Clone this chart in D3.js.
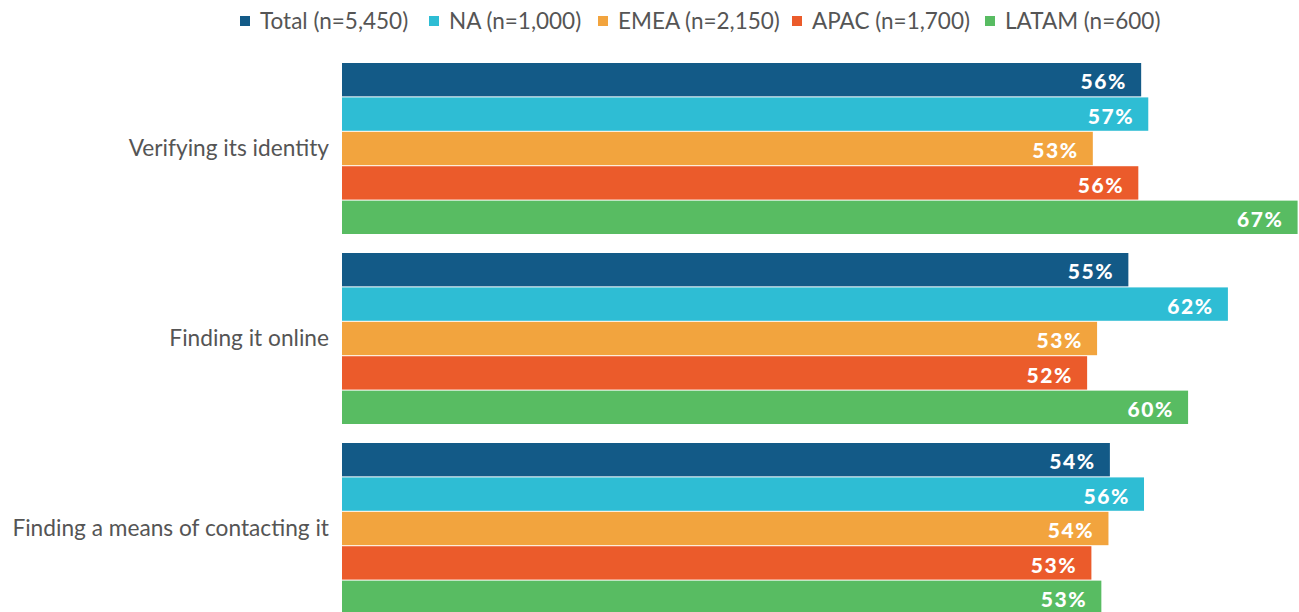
<!DOCTYPE html>
<html><head><meta charset="utf-8">
<script src="https://cdn.jsdelivr.net/npm/d3@7"></script>
<style>body{margin:0;background:#fff}svg{display:block}</style>
</head><body><svg id="c" width="1299" height="612"></svg>
<script>
const categories = ["Verifying its identity", "Finding it online", "Finding a means of contacting it"];
const seriesNames = ["Total (n=5,450)", "NA (n=1,000)", "EMEA (n=2,150)", "APAC (n=1,700)", "LATAM (n=600)"];
const seriesColors = ["#135a87", "#2ebdd4", "#f2a43e", "#eb5b2b", "#58bc62"];
const totalVals = [56.2, 55.3, 54.0];
const naVals    = [56.7, 62.3, 56.4];
const emeaVals  = [52.8, 53.1, 53.9];
const apacVals  = [56.0, 52.4, 52.7];
const latamVals = [67.2, 59.5, 53.4];
const seriesVals = [totalVals, naVals, emeaVals, apacVals, latamVals];

const svg = d3.select("#c");
const x = d3.scaleLinear().domain([0, 70]).range([342, 342 + 70 * 14.22]);
const y0 = d3.scaleBand().domain(categories).range([63, 614]).paddingInner(0.1).paddingOuter(0);
const y1 = d3.scaleBand().domain(seriesNames).range([0, y0.bandwidth()]).paddingInner(0.03).paddingOuter(0);

const LS = 1.6;
const groups = svg.selectAll("g.grp").data(categories).join("g")
  .attr("transform", c => `translate(0,${y0(c)})`);

groups.each(function(c, ci) {
  const g = d3.select(this);
  seriesNames.forEach((s, si) => {
    const v = seriesVals[si][ci];
    g.append("rect").attr("x", x(0)).attr("y", y1(s))
      .attr("width", x(v) - x(0)).attr("height", y1.bandwidth())
      .attr("fill", seriesColors[si]);
    g.append("text").attr("x", x(v) - 15.7 + LS).attr("y", y1(s) + y1.bandwidth() / 2 + 9.8)
      .attr("text-anchor", "end")
      .attr("fill", "#fff").attr("font-family", "Lato").attr("font-weight", 900)
      .attr("font-size", 21).attr("letter-spacing", LS)
      .text(Math.round(v) + "%");
  });
  g.append("text").attr("x", 329).attr("y", y0.bandwidth() / 2 + 7.5)
    .attr("text-anchor", "end").attr("fill", "#555").attr("font-family", "Lato")
    .attr("font-size", 22.7).text(c);
});

// legend
const legendX = [240, 429, 598, 792, 985];
const lg = svg.append("g");
seriesNames.forEach((s, i) => {
  lg.append("rect").attr("x", legendX[i]).attr("y", 16).attr("width", 10).attr("height", 10).attr("fill", seriesColors[i]);
  lg.append("text").attr("x", legendX[i] + 20).attr("y", 29)
    .attr("fill", "#555").attr("font-family", "Lato").attr("font-size", 22.5).text(s);
});
</script></body></html>
